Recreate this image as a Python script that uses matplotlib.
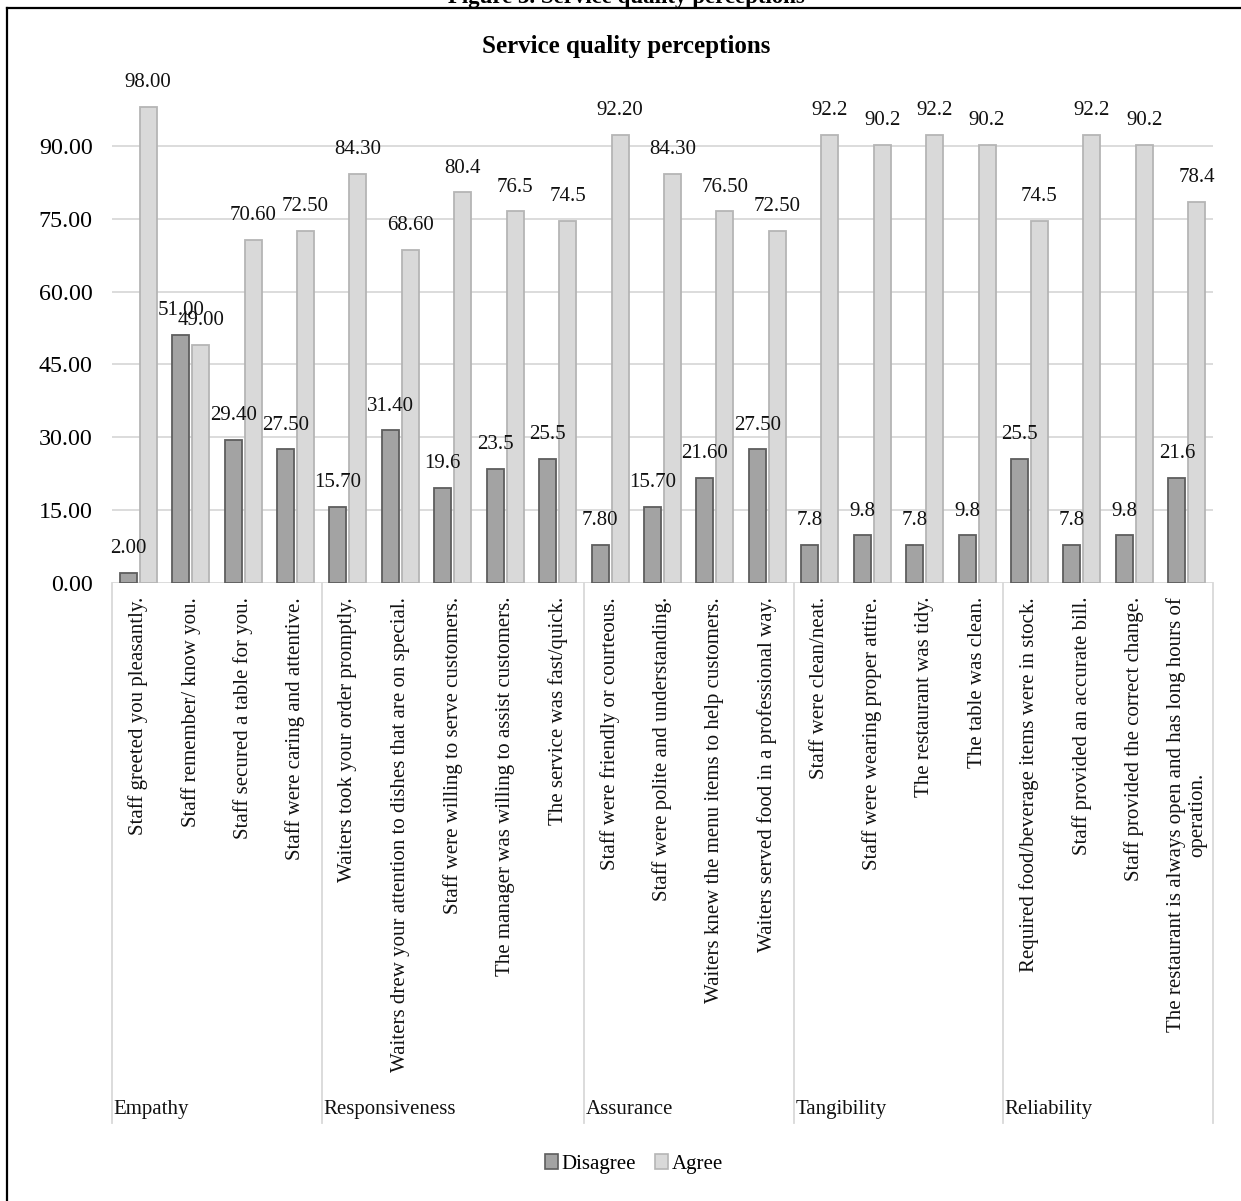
import matplotlib
matplotlib.use('Agg')
import matplotlib.pyplot as plt
import matplotlib.transforms as mtransforms
from matplotlib.patches import Patch
from matplotlib.lines import Line2D
import numpy as np

plt.rcParams['font.family'] = ['Liberation Serif', 'DejaVu Serif']

groups = ['Empathy', 'Responsiveness', 'Assurance', 'Tangibility', 'Reliability']
group_sizes = [4, 5, 4, 4, 4]
items = [
    'Staff greeted you pleasantly.',
    'Staff remember/ know you.',
    'Staff secured a table for you.',
    'Staff were caring and attentive.',
    'Waiters took your order promptly.',
    'Waiters drew your attention to dishes that are on special.',
    'Staff were willing to serve customers.',
    'The manager was willing to assist customers.',
    'The service was fast/quick.',
    'Staff were friendly or courteous.',
    'Staff were polite and understanding.',
    'Waiters knew the menu items to help customers.',
    'Waiters served food in a professional way.',
    'Staff were clean/neat.',
    'Staff were wearing proper attire.',
    'The restaurant was tidy.',
    'The table was clean.',
    'Required food/beverage items were in stock.',
    'Staff provided an accurate bill.',
    'Staff provided the correct change.',
    'The restaurant is always open and has long hours of\noperation.',
]
disagree = [2.00, 51.00, 29.40, 27.50, 15.70, 31.40, 19.6, 23.5, 25.5,
            7.80, 15.70, 21.60, 27.50, 7.8, 9.8, 7.8, 9.8, 25.5, 7.8, 9.8, 21.6]
agree = [98.00, 49.00, 70.60, 72.50, 84.30, 68.60, 80.4, 76.5, 74.5,
         92.20, 84.30, 76.50, 72.50, 92.2, 90.2, 92.2, 90.2, 74.5, 92.2, 90.2, 78.4]
disagree_labels = ['2.00', '51.00', '29.40', '27.50', '15.70', '31.40', '19.6', '23.5', '25.5',
                   '7.80', '15.70', '21.60', '27.50', '7.8', '9.8', '7.8', '9.8', '25.5', '7.8', '9.8', '21.6']
agree_labels = ['98.00', '49.00', '70.60', '72.50', '84.30', '68.60', '80.4', '76.5', '74.5',
                '92.20', '84.30', '76.50', '72.50', '92.2', '90.2', '92.2', '90.2', '74.5', '92.2', '90.2', '78.4']
yticks = [0, 15, 30, 45, 60, 75, 90]
series_names = ['Disagree', 'Agree']

W, H, DPI = 1241, 1201, 100
fig = plt.figure(figsize=(W / DPI, H / DPI), dpi=DPI)

# axes placement in pixels
x0, x1 = 112, 1213
y_zero, y_top = 583, 73
ax = fig.add_axes([x0 / W, (H - y_zero) / H, (x1 - x0) / W, (y_zero - y_top) / H])
ax_h = y_zero - y_top

n = len(items)
x = np.arange(n)
bw = 0.325
off = 0.19
d_col, d_edge = '#a3a3a3', '#5e5e5e'
a_col, a_edge = '#d9d9d9', '#b5b5b5'
ax.bar(x - off, disagree, width=bw, color=d_col, edgecolor=d_edge, linewidth=1.3, zorder=3)
ax.bar(x + off, agree, width=bw, color=a_col, edgecolor=a_edge, linewidth=1.3, zorder=3)

lbl_off = 17.5
for i in range(n):
    ax.annotate(disagree_labels[i], (x[i] - off, disagree[i]), xytext=(0, lbl_off),
                textcoords='offset points', ha='center', va='center', fontsize=15, color='#111111')
    ax.annotate(agree_labels[i], (x[i] + off, agree[i]), xytext=(0, lbl_off),
                textcoords='offset points', ha='center', va='center', fontsize=15, color='#111111')

ax.set_xlim(-0.5, n - 0.5)
ax.set_ylim(0, 105)
ax.set_yticks(yticks)
ax.set_yticklabels([f'{v:.2f}' for v in yticks], fontsize=17.3)
ax.tick_params(axis='y', length=0, pad=14)
ax.set_xticks([])
ax.grid(axis='y', color='#d9d9d9', linewidth=1.3, zorder=0)
ax.set_axisbelow(True)
for s in ax.spines.values():
    s.set_visible(False)

trans = mtransforms.blended_transform_factory(ax.transData, ax.transAxes)
sep_bottom = (y_zero - 1123) / ax_h
bounds = np.concatenate([[0], np.cumsum(group_sizes)]) - 0.5
for b in bounds:
    ax.add_line(Line2D([b, b], [0, sep_bottom], transform=trans, color='#d9d9d9',
                       linewidth=1.3, clip_on=False))

item_y = (y_zero - 597) / ax_h
for i, lab in enumerate(items):
    ax.text(x[i], item_y, lab, transform=trans, rotation=90, ha='center', va='top',
            fontsize=15, multialignment='center', color='#111111')

grp_y = (y_zero - 1110) / ax_h
for g, b in zip(groups, bounds[:-1]):
    ax.text(b + 0.03, grp_y, g, transform=trans, ha='left', va='center', fontsize=15, color='#111111')

# titles
fig.text(626 / W, (H - 47) / H, 'Service quality perceptions', ha='center', va='center',
         fontsize=18, fontweight='bold')
fig.text(626 / W, 1 - 3 / H, 'Figure 3. Service quality perceptions', ha='center', va='baseline',
         fontsize=16.5, fontweight='bold')

# border lines (chart area box, partly outside the image)
fig.add_artist(Line2D([7 / W, 1.0], [1 - 8 / H, 1 - 8 / H], transform=fig.transFigure,
                      color='black', linewidth=1.6))
fig.add_artist(Line2D([7 / W, 7 / W], [0.0, 1 - 8 / H], transform=fig.transFigure,
                      color='black', linewidth=1.6))

handles = [Patch(facecolor=d_col, edgecolor=d_edge, linewidth=1.2, label=series_names[0]),
           Patch(facecolor=a_col, edgecolor=a_edge, linewidth=1.2, label=series_names[1])]
fig.legend(handles=handles, loc='center', bbox_to_anchor=(634 / W, (H - 1164) / H), ncol=2,
           frameon=False, fontsize=15, handlelength=0.6, handleheight=0.7,
           handletextpad=0.2, columnspacing=0.9)

fig.savefig('out.png', dpi=DPI)
